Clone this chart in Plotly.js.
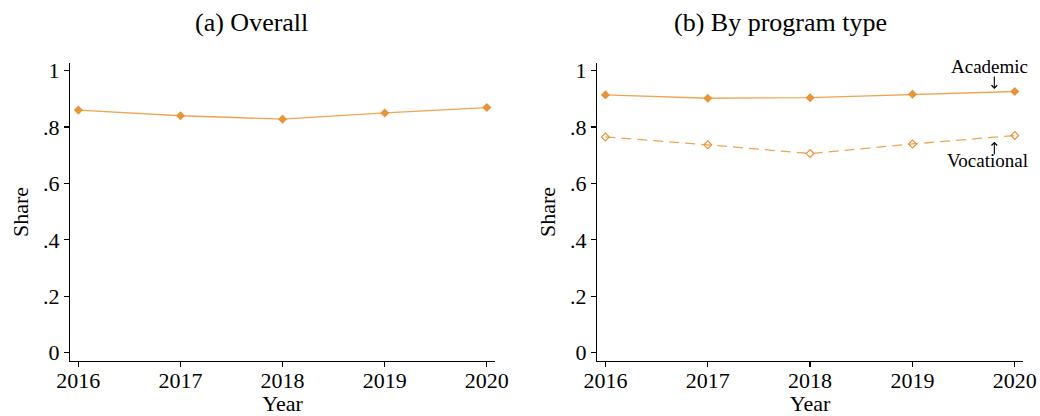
<!DOCTYPE html>
<html>
<head>
<meta charset="utf-8">
<script src="https://cdn.plot.ly/plotly-3.0.1.min.js"></script>
<style>html,body{margin:0;padding:0;background:#fff;}#chart{width:1040px;height:416px;}</style>
</head>
<body>
<div id="chart"></div>
<script>
const years = [2016, 2017, 2018, 2019, 2020];
const overallShare = [0.860, 0.840, 0.828, 0.850, 0.869];
const academicShare = [0.914, 0.902, 0.904, 0.916, 0.926];
const vocationalShare = [0.765, 0.737, 0.706, 0.740, 0.770];
const yTickVals = [0, 0.2, 0.4, 0.6, 0.8, 1];
const yTickText = ["0", ".2", ".4", ".6", ".8", "1"];
const panelTitles = ["(a) Overall", "(b) By program type"];

const lineColor = '#F0A452';
const markColor = '#E8943A';
const font = 'Liberation Serif, Times New Roman, serif';

const traces = [
  {x: years, y: overallShare, xaxis: 'x', yaxis: 'y', mode: 'lines+markers',
   line: {color: lineColor, width: 1.3}, marker: {symbol: 'diamond', size: 7, color: markColor}},
  {x: years, y: academicShare, xaxis: 'x2', yaxis: 'y2', mode: 'lines+markers',
   line: {color: lineColor, width: 1.3}, marker: {symbol: 'diamond', size: 7, color: markColor}},
  {x: years, y: vocationalShare, xaxis: 'x2', yaxis: 'y2', mode: 'lines+markers',
   line: {color: lineColor, width: 1.3, dash: '10px,6px'},
   marker: {symbol: 'diamond-open', size: 6, color: markColor, line: {width: 1.2, color: markColor}}}
];

function xax(domain, anchor) {
  return {domain: domain, anchor: anchor, range: [2015.918, 2020.08], tickvals: years,
    showgrid: false, zeroline: false, showline: true, linecolor: '#000', linewidth: 1.2,
    ticks: 'outside', ticklen: 5, tickcolor: '#000', tickwidth: 1.2, ticklabelstandoff: -6,
    tickfont: {family: font, size: 22, color: '#000'},
    title: {text: 'Year', font: {family: font, size: 22, color: '#000'}, standoff: 0}};
}
function yax(domain, anchor) {
  return {domain: domain, anchor: anchor, range: [-0.0294, 1.027], tickvals: yTickVals, ticktext: yTickText,
    showgrid: false, zeroline: false, showline: true, linecolor: '#000', linewidth: 1.2,
    ticks: 'outside', ticklen: 5, tickcolor: '#000', tickwidth: 1.2,
    tickfont: {family: font, size: 22, color: '#000'},
    title: {text: 'Share', font: {family: font, size: 22, color: '#000'}, standoff: 8}};
}

const yDom = [1 - 361/416, 1 - 63/416];
const layout = {
  width: 1040, height: 416,
  margin: {l: 0, r: 0, t: 0, b: 0},
  paper_bgcolor: '#fff', plot_bgcolor: '#fff',
  showlegend: false,
  font: {family: font, color: '#000'},
  xaxis: xax([70/1040, 495/1040], 'y'),
  yaxis: yax(yDom, 'x'),
  xaxis2: xax([597/1040, 1023/1040], 'y2'),
  yaxis2: yax(yDom, 'x2'),
  annotations: [
    {text: panelTitles[0], xref: 'paper', yref: 'paper', x: 251.5/1040, y: 1 - 22/416,
     showarrow: false, font: {family: font, size: 26, color: '#000'}, xanchor: 'center', yanchor: 'middle'},
    {text: panelTitles[1], xref: 'paper', yref: 'paper', x: 780/1040, y: 1 - 22/416,
     showarrow: false, font: {family: font, size: 26, color: '#000'}, xanchor: 'center', yanchor: 'middle'},
    {text: 'Academic', xref: 'x2', yref: 'y2', x: 2019.75, y: 1.013, showarrow: false,
     font: {family: font, size: 19, color: '#000'}, xanchor: 'center', yanchor: 'middle'},
    {text: '', xref: 'x2', yref: 'y2', x: 2019.80, y: 0.935, showarrow: true, arrowhead: 4,
     arrowsize: 1, arrowwidth: 1.1, arrowcolor: '#000', ax: 0, ay: -14, standoff: 0},
    {text: 'Vocational', xref: 'x2', yref: 'y2', x: 2019.73, y: 0.680, showarrow: false,
     font: {family: font, size: 19, color: '#000'}, xanchor: 'center', yanchor: 'middle'},
    {text: '', xref: 'x2', yref: 'y2', x: 2019.80, y: 0.748, showarrow: true, arrowhead: 4,
     arrowsize: 1, arrowwidth: 1.1, arrowcolor: '#000', ax: 0, ay: 14, standoff: 0}
  ]
};

Plotly.newPlot('chart', traces, layout, {displayModeBar: false, staticPlot: true});
</script>
</body>
</html>
